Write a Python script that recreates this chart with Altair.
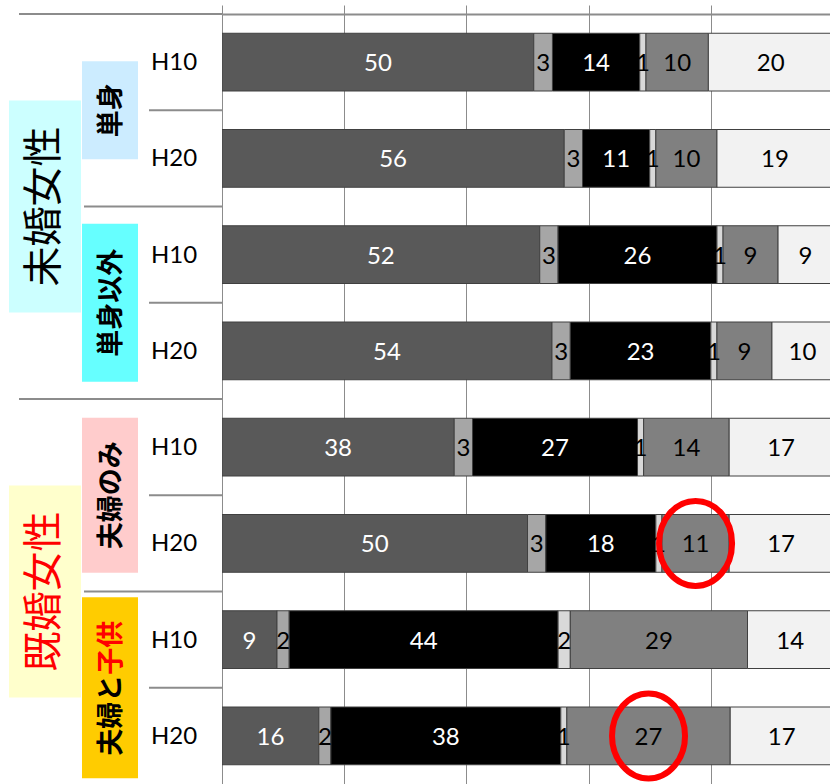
import altair as alt
import pandas as pd

# ---- data ----
groups = ["未婚女性"] * 4 + ["既婚女性"] * 4
subgroups = ["単身", "単身", "単身以外", "単身以外", "夫婦のみ", "夫婦のみ", "夫婦と子供", "夫婦と子供"]
years = ["H10", "H20"] * 4
seg1 = [50, 56, 52, 54, 38, 50, 9, 16]
seg2 = [3, 3, 3, 3, 3, 3, 2, 2]
seg3 = [14, 11, 26, 23, 27, 18, 44, 38]
seg4 = [1, 1, 1, 1, 1, 1, 2, 1]
seg5 = [10, 10, 9, 9, 14, 11, 29, 27]
seg6 = [20, 19, 9, 10, 17, 17, 14, 17]
segment_names = ["s1", "s2", "s3", "s4", "s5", "s6"]
segment_colors = ["#595959", "#A6A6A6", "#000000", "#D9D9D9", "#808080", "#F2F2F2"]
label_colors = ["white", "black", "white", "black", "black", "black"]
highlights = [(5, "s5"), (7, "s5")]  # (row index, segment) circled in red

# ---- tables ----
series = [seg1, seg2, seg3, seg4, seg5, seg6]
row_ids = [f"{g}|{s}|{y}" for g, s, y in zip(groups, subgroups, years)]
recs = []
for i, rid in enumerate(row_ids):
    total = sum(s[i] for s in series)
    cum = 0
    for k, s in enumerate(series):
        v = s[i]
        recs.append(dict(row=rid, seg=segment_names[k], value=v,
                         start=cum / total, end=(cum + v) / total,
                         mid=(cum + v / 2) / total, tcolor=label_colors[k],
                         label=str(v)))
        cum += v
bars_df = pd.DataFrame(recs)

rows_df = pd.DataFrame(dict(row=row_ids, year=years))
levels = []
for i in range(len(row_ids)):
    if i == 0 or groups[i] != groups[i - 1]:
        levels.append(3)
    elif subgroups[i] != subgroups[i - 1]:
        levels.append(2)
    else:
        levels.append(1)
rows_df["level"] = levels

hl_df = pd.DataFrame([dict(row=row_ids[r], mid=bars_df[(bars_df.row == row_ids[r]) & (bars_df.seg == s)].mid.iloc[0])
                      for r, s in highlights])

# group label anchors: boundary at top of the row that starts the second half
def center_row(names, name):
    idx = [i for i, n in enumerate(names) if n == name]
    return row_ids[idx[0] + len(idx) // 2]

main_df = pd.DataFrame(dict(label=["未婚女性", "既婚女性"],
                            row=[center_row(groups, "未婚女性"), center_row(groups, "既婚女性")],
                            box=["#CCFFFF", "#FFFFCC"], tcol=["black", "#FF0000"]))
sub_names = ["単身", "単身以外", "夫婦のみ", "夫婦と子供"]
sub_df = pd.DataFrame(dict(label=sub_names,
                           row=[center_row(subgroups, n) for n in sub_names],
                           box=["#CCECFF", "#66FFFF", "#FFCCCC", "#FFCC00"],
                           h=[98, 158, 155, 181]))

# ---- scales ----
yscale = alt.Scale(domain=row_ids, paddingInner=0, paddingOuter=0)
xscale = alt.Scale(domain=[0, 0.995], nice=False, zero=False)
FONT = "Lato"
CJK = "Noto Sans CJK JP"
GRAY = "#8C8C8C"

def rect_path(w, h):
    a = w / h
    return f"M{-a:.4f},-1L{a:.4f},-1L{a:.4f},1L{-a:.4f},1Z"

def ellipse_path(w, h):
    a = w / h
    k = 0.5523
    return (f"M{a:.4f},0C{a:.4f},{k} {k*a:.4f},1 0,1C{-k*a:.4f},1 {-a:.4f},{k} {-a:.4f},0"
            f"C{-a:.4f},{-k} {-k*a:.4f},-1 0,-1C{k*a:.4f},-1 {a:.4f},{-k} {a:.4f},0Z")

base_y = alt.Y("row:N", scale=yscale, axis=None)

# boxes behind group labels
main_boxes = []
for _, r in main_df.iterrows():
    main_boxes.append(
        alt.Chart(pd.DataFrame([r])).mark_point(
            shape=rect_path(72, 212), size=212 ** 2, filled=True, opacity=1,
            strokeWidth=0, fill=r["box"])
        .encode(x=alt.value(-177), y=alt.Y("row:N", scale=yscale, axis=None, bandPosition=0))
    )
sub_boxes = []
for _, r in sub_df.iterrows():
    sub_boxes.append(
        alt.Chart(pd.DataFrame([r])).mark_point(
            shape=rect_path(56, r["h"]), size=r["h"] ** 2, filled=True, opacity=1,
            strokeWidth=0, fill=r["box"])
        .encode(x=alt.value(-112), y=alt.Y("row:N", scale=yscale, axis=None, bandPosition=0))
    )

main_text = alt.Chart(main_df).mark_text(
    angle=270, align="center", baseline="middle", font=CJK, fontSize=40
).encode(x=alt.value(-177), y=alt.Y("row:N", scale=yscale, axis=None, bandPosition=0),
         text="label:N", color=alt.Color("tcol:N", scale=None))

sub_plain = sub_df[sub_df.label != "夫婦と子供"]
sub_text = alt.Chart(sub_plain).mark_text(
    angle=270, align="center", baseline="middle", font=CJK, fontSize=27, fontWeight="bold", color="black"
).encode(x=alt.value(-110), y=alt.Y("row:N", scale=yscale, axis=None, bandPosition=0), text="label:N")

fc_row = sub_df[sub_df.label == "夫婦と子供"].row.iloc[0]
fc_a = alt.Chart(pd.DataFrame(dict(row=[fc_row], t=["夫婦と"]))).mark_text(
    angle=270, align="right", baseline="middle", font=CJK, fontSize=27, fontWeight="bold",
    color="black", yOffset=-13
).encode(x=alt.value(-110), y=alt.Y("row:N", scale=yscale, axis=None, bandPosition=0), text="t:N")
fc_b = alt.Chart(pd.DataFrame(dict(row=[fc_row], t=["子供"]))).mark_text(
    angle=270, align="left", baseline="middle", font=CJK, fontSize=27, fontWeight="bold",
    color="#FF0000", yOffset=-13
).encode(x=alt.value(-110), y=alt.Y("row:N", scale=yscale, axis=None, bandPosition=0), text="t:N")

year_text = alt.Chart(rows_df).mark_text(
    align="left", baseline="middle", font=FONT, fontSize=24, color="black", dy=1
).encode(x=alt.value(-71), y=base_y, text="year:N")

seps = []
for lvl, x0 in [(1, -73), (2, -138), (3, -203)]:
    seps.append(
        alt.Chart(rows_df[rows_df.level == lvl]).mark_rule(color=GRAY, strokeWidth=2)
        .encode(x=alt.value(x0), x2=alt.value(0),
                y=alt.Y("row:N", scale=yscale, axis=None, bandPosition=0))
    )

bars = alt.Chart(bars_df).mark_bar(
    height={"band": 0.6}, stroke="#404040", strokeWidth=1, clip=True
).encode(
    x=alt.X("start:Q", scale=xscale,
            axis=alt.Axis(orient="top", values=[0, 0.2, 0.4, 0.6, 0.8], labels=False,
                          ticks=True, tickSize=9, tickColor=GRAY, tickWidth=1,
                          domain=True, domainColor=GRAY, domainWidth=2,
                          grid=True, gridColor=GRAY, gridWidth=1, title=None)),
    x2="end:Q",
    y=alt.Y("row:N", scale=yscale,
            axis=alt.Axis(labels=False, ticks=False, domain=True, domainColor=GRAY,
                          domainWidth=2, grid=False, title=None)),
    color=alt.Color("seg:N", scale=alt.Scale(domain=segment_names, range=segment_colors), legend=None),
)

bar_text = alt.Chart(bars_df).mark_text(
    align="center", baseline="middle", font=FONT, fontSize=24, dy=2
).encode(x=alt.X("mid:Q", scale=xscale), y=base_y, text="label:N",
         color=alt.Color("tcolor:N", scale=None))

circles = alt.Chart(hl_df).mark_point(
    shape=ellipse_path(73, 85), size=85 ** 2, filled=False, stroke="#FF0000",
    strokeWidth=6, opacity=1
).encode(x=alt.X("mid:Q", scale=xscale), y=base_y)

chart = alt.layer(
    *main_boxes, *sub_boxes, main_text, sub_text, fc_a, fc_b, year_text, *seps,
    bars, bar_text, circles
).properties(
    width=608, height=770,
    padding={"left": 222, "top": 14, "right": 0, "bottom": 0},
    autosize=alt.AutoSizeParams(type="none"),
).configure_view(stroke=None).configure(background="white")

chart.save("out.html", embed_options={"renderer": "svg", "actions": False})
